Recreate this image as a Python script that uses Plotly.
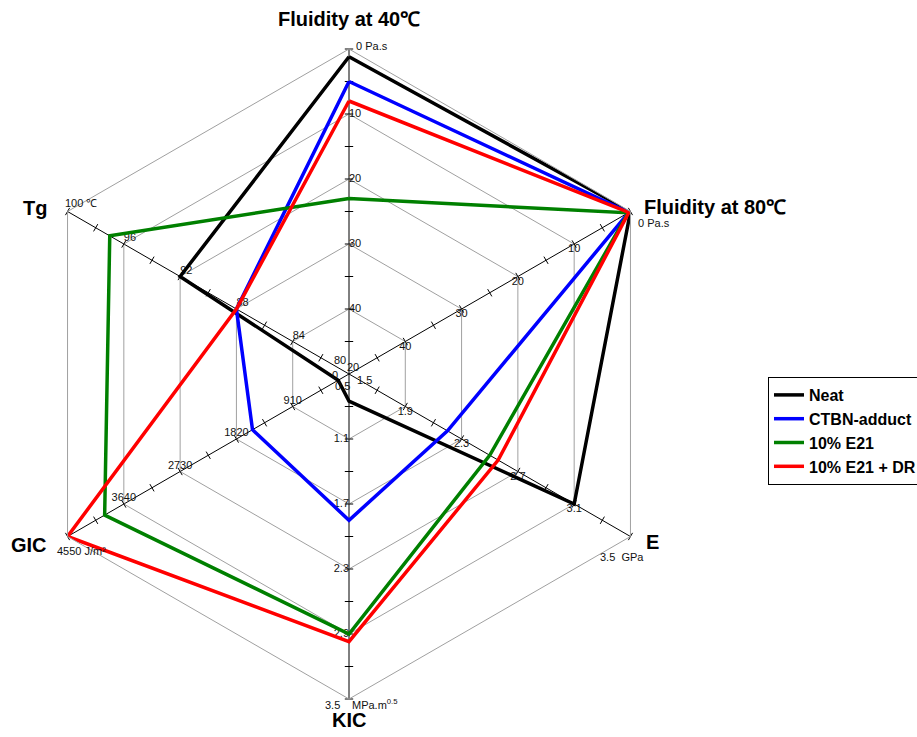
import math
import plotly.graph_objects as go

# ---------------- data ----------------
axis_names = ["Fluidity at 40℃", "Fluidity at 80℃", "E", "KIC", "GIC", "Tg"]
axis_inner = [50, 50, 1.5, 0.5, 0, 80]       # value at the centre
axis_outer = [0, 0, 3.5, 3.5, 4550, 100]     # value at the outer ring
tick_labels = [
    ["40", "30", "20", "10"],
    ["40", "30", "20", "10"],
    ["1.9", "2.3", "2.7", "3.1"],
    ["1.1", "1.7", "2.3", "2.9"],
    ["910", "1820", "2730", "3640"],
    ["84", "88", "92", "96"],
]
outer_labels = ["0 Pa.s", "0 Pa.s", "3.5  GPa", "3.5", "4550 J/m²", "100 ℃"]
kic_unit = "MPa.m<sup>0.5</sup>"
center_labels = ["80", "20", "0", "1.5", "0.5"]

series_names = ["Neat", "CTBN-adduct", "10% E21", "10% E21 + DR"]
neat = [1.2, 0.0, 3.1, 0.75, 175, 92]
ctbn_adduct = [5.0, 0.3, 2.2, 1.85, 1560, 88]
e21 = [23.0, 0.4, 2.5, 2.9, 3950, 97]
e21_dr = [8.0, 0.3, 2.56, 2.97, 4550, 88]
series_values = [neat, ctbn_adduct, e21, e21_dr]
series_colors = ["#000000", "#0000ff", "#008000", "#ff0000"]

# ---------------- layout constants ----------------
axis_angles = [90, 30, -30, -90, -150, 150]   # screen angle of each spoke (math convention)
W, H = 917, 737
CX, CY, R = 349, 374, 325
FONT = "Arial, Liberation Sans, sans-serif"
LABEL_FONT = dict(family=FONT, size=11, color="#111111")


def norm(i, v):
    return (v - axis_inner[i]) / (axis_outer[i] - axis_inner[i])


def vertex(ang, frac=1.0):
    return (CX + frac * R * math.cos(math.radians(ang)),
            CY - frac * R * math.sin(math.radians(ang)))


def add_text(px, py, text, xanchor, font):
    fig.add_annotation(x=px / W, y=1 - py / H, xref="paper", yref="paper",
                       text=text, showarrow=False, xanchor=xanchor, yanchor="middle",
                       font=font)


fig = go.Figure()

# tick marks on each spoke (major + minor)
tr, tt, ta = [], [], []
for i, ang in enumerate(axis_angles):
    for k in range(1, 11):
        tr.append(k / 10)
        tt.append(axis_names[i])
        ta.append(-(ang + 90))
fig.add_trace(go.Scatterpolar(
    r=tr, theta=tt, mode="markers", showlegend=False, hoverinfo="skip",
    marker=dict(symbol="line-ew", size=6, angle=ta,
                line=dict(width=1, color="#000000"), color="#000000"),
    cliponaxis=False,
))

# numeric tick labels
tick_pos = ["middle right", "bottom center", "bottom center", "middle left", "top center", "top right"]
for i in range(6):
    fig.add_trace(go.Scatterpolar(
        r=[norm(i, float(t)) for t in tick_labels[i]],
        theta=[axis_names[i]] * len(tick_labels[i]),
        text=tick_labels[i], mode="text", textposition=tick_pos[i],
        textfont=LABEL_FONT, showlegend=False, hoverinfo="skip", cliponaxis=False,
    ))

# data series
for name, vals, col in zip(series_names, series_values, series_colors):
    rr = [norm(i, v) for i, v in enumerate(vals)]
    fig.add_trace(go.Scatterpolar(
        r=rr + rr[:1], theta=axis_names + axis_names[:1],
        mode="lines", name=name, line=dict(color=col, width=3.5),
        cliponaxis=False,
    ))

# outer labels (value + unit) beside each outer vertex
outer_place = [("left", 5, -3), ("left", 6, 11), ("center", -8, 20),
               ("right", -7, 6), ("left", -13, 14), ("left", -5, -9)]
for txt, ang, (xa, dx, dy) in zip(outer_labels, axis_angles, outer_place):
    vx, vy = vertex(ang)
    add_text(vx + dx, vy + dy, txt, xa, LABEL_FONT)
vx, vy = vertex(axis_angles[3])
add_text(vx + 1, vy + 5, kic_unit, "left", LABEL_FONT)

# centre labels (crowded around the origin, as in the original)
center_offsets = [(-9, -14), (4, -7), (-14, 1), (15, 6), (-7, 12)]
for txt, (dx, dy) in zip(center_labels, center_offsets):
    add_text(CX + dx, CY + dy, txt, "center", LABEL_FONT)

# axis titles
title_place = [("center", 0, -30), ("left", 12, -5), ("left", 14, 5),
               ("center", 0, 21), ("right", -19, 8), ("right", -19, -4)]
for name, ang, (xa, dx, dy) in zip(axis_names, axis_angles, title_place):
    vx, vy = vertex(ang)
    add_text(vx + dx, vy + dy, "<b>" + name + "</b>", xa,
             dict(family=FONT, size=20, color="#000000"))

fig.update_layout(
    width=W, height=H,
    margin=dict(l=0, r=0, t=0, b=0, autoexpand=False),
    paper_bgcolor="white",
    plot_bgcolor="white",
    polar=dict(
        domain=dict(x=[(CX - R) / W, (CX + R) / W], y=[1 - (CY + R) / H, 1 - (CY - R) / H]),
        bgcolor="white",
        gridshape="linear",
        radialaxis=dict(range=[0, 1], tickvals=[0.2, 0.4, 0.6, 0.8, 1.0],
                        showticklabels=False, ticks="", showline=False,
                        gridcolor="#a0a0a0", gridwidth=1),
        angularaxis=dict(type="category", categoryarray=axis_names,
                         rotation=90, direction="clockwise",
                         showticklabels=False, ticks="",
                         gridcolor="#000000", gridwidth=1,
                         showline=True, linecolor="#a0a0a0", linewidth=1),
    ),
    showlegend=True,
    legend=dict(x=768 / W, y=1 - 377 / H, xanchor="left", yanchor="top",
                bordercolor="#000000", borderwidth=1, bgcolor="white",
                font=dict(family=FONT, size=16, color="#000000", weight="bold"),
                tracegroupgap=0),
)

fig.write_html("out.html", config={"displayModeBar": False},
               post_script="document.body.style.margin='0';document.body.style.padding='0';")
